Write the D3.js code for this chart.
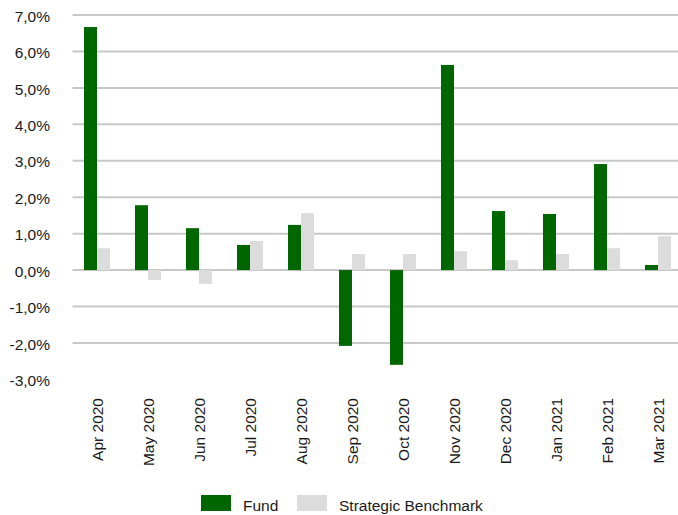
<!DOCTYPE html>
<html>
<head>
<meta charset="utf-8">
<script src="https://cdn.jsdelivr.net/npm/d3@7"></script>
<style>
  html, body { margin: 0; padding: 0; background: #fff; }
  svg { display: block; font-family: "Liberation Sans", Arial, sans-serif; }
</style>
</head>
<body>
<svg id="chart" width="678" height="515"></svg>
<script>
const months = ["Apr 2020","May 2020","Jun 2020","Jul 2020","Aug 2020","Sep 2020","Oct 2020","Nov 2020","Dec 2020","Jan 2021","Feb 2021","Mar 2021"];
const fund = [6.67, 1.78, 1.15, 0.69, 1.24, -2.08, -2.60, 5.63, 1.62, 1.54, 2.91, 0.14];
const benchmark = [0.60, -0.27, -0.38, 0.80, 1.56, 0.44, 0.44, 0.52, 0.27, 0.44, 0.60, 0.93];
const seriesNames = ["Fund", "Strategic Benchmark"];
const seriesColors = ["#006600", "#dcdcdc"];
const yTicks = [-3, -2, -1, 0, 1, 2, 3, 4, 5, 6, 7];

const svg = d3.select("#chart");
const fontSize = 15.5;
const textColor = "#1a1a1a";

const y = d3.scaleLinear().domain([-3, 7]).range([379.4, 15]);
const x = d3.scaleBand().domain(months).range([71.5, 683.5]).paddingInner(0.49).paddingOuter(0.245);
const xs = d3.scaleBand().domain(seriesNames).range([0, x.bandwidth()]);

const fmt = v => d3.format(".1f")(v).replace(".", ",").replace("−", "-") + "%";

// gridlines (no line at the bottom tick)
svg.append("g")
  .selectAll("line")
  .data(yTicks.filter(t => t !== -3))
  .join("line")
  .attr("x1", 72.5).attr("x2", 678)
  .attr("y1", d => y(d)).attr("y2", d => y(d))
  .attr("stroke", "#c8c8c8").attr("stroke-width", 2);

// y axis labels
const yAxis = d3.axisLeft(y).tickValues(yTicks).tickFormat(fmt).tickSize(0).tickPadding(0);
const yg = svg.append("g").attr("transform", "translate(50,0)").call(yAxis);
yg.select(".domain").remove();
yg.selectAll("text").attr("font-size", fontSize).attr("fill", textColor)
  .attr("font-family", "'Liberation Sans', Arial, sans-serif").attr("dy", "0.4em");

// bars
const data = months.map((m, i) => ({ m, vals: [fund[i], benchmark[i]] }));
const groups = svg.append("g").selectAll("g").data(data).join("g")
  .attr("transform", d => `translate(${x(d.m)},0)`);
groups.selectAll("rect")
  .data(d => d.vals.map((v, j) => ({ v, s: seriesNames[j], c: seriesColors[j] })))
  .join("rect")
  .attr("x", d => xs(d.s))
  .attr("width", xs.bandwidth())
  .attr("y", d => y(Math.max(0, d.v)))
  .attr("height", d => Math.abs(y(d.v) - y(0)))
  .attr("fill", d => d.c);

// x axis labels
const xAxis = d3.axisBottom(x).tickSize(0).tickPadding(0);
const xg = svg.append("g").attr("transform", "translate(0,398)").call(xAxis);
xg.select(".domain").remove();
xg.selectAll("text")
  .attr("font-size", fontSize).attr("fill", textColor)
  .attr("font-family", "'Liberation Sans', Arial, sans-serif")
  .attr("text-anchor", "end")
  .attr("transform", "rotate(-90)")
  .attr("x", 0).attr("y", 0).attr("dy", "0.37em").attr("dx", 0);

// legend
const legendItems = [
  { name: seriesNames[0], color: seriesColors[0], sx: 201, tx: 243 },
  { name: seriesNames[1], color: seriesColors[1], sx: 297, tx: 339 }
];
const lg = svg.append("g");
lg.selectAll("rect").data(legendItems).join("rect")
  .attr("x", d => d.sx).attr("y", 495).attr("width", 30).attr("height", 16)
  .attr("fill", d => d.color);
lg.selectAll("text").data(legendItems).join("text")
  .attr("x", d => d.tx).attr("y", 511)
  .attr("font-size", fontSize).attr("fill", textColor)
  .text(d => d.name);
</script>
</body>
</html>
